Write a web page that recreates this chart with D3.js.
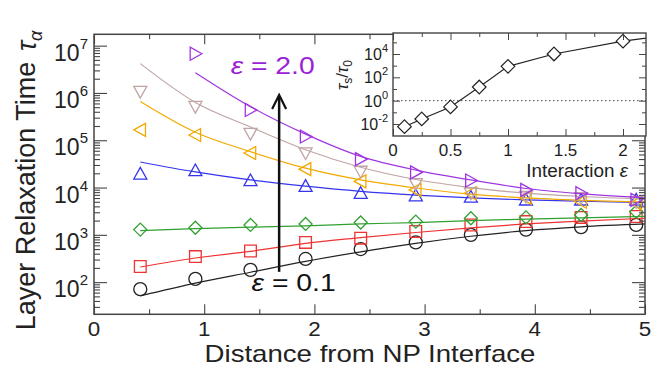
<!DOCTYPE html>
<html>
  <head>
    <meta charset="utf-8">
    <script src="https://d3js.org/d3.v7.min.js"></script>
    <style>
      body { margin: 0; background: #fff; }
      svg text { font-family: "Liberation Sans", Arial, sans-serif; fill: #222; }
    </style>
  </head>
  <body>
    <svg id="chart" width="652" height="369"></svg>
    <script>
        // layer distances (markers) and sample points of the fitted curves
        const layerDist = [0.42, 0.92, 1.42, 1.92, 2.42, 2.92, 3.42, 3.92, 4.42, 4.92]
        const fitDist   = [0.42, 0.92, 1.42, 1.92, 2.42, 2.92, 3.42, 3.92, 4.42, 5.0]

        // tau_alpha per layer, one array per interaction strength
        const tauEps01  = [71, 117, 182, 309, 501, 692, 1000, 1290, 1450, 1620]
        const tauEps025 = [214, 347, 457, 692, 851, 1175, 1620, 1905, 2340, 2450]
        const tauEps05  = [1290, 1410, 1620, 1700, 1820, 1905, 2240, 2340, 2630, 3090]
        const tauEps075 = [19500, 22900, 14100, 10700, 7590, 6760, 6310, 5500, 5500, 5500]
        const tauEps10  = [166000, 129000, 53700, 24500, 13500, 8910, 7590, 6030, 5010, 4680]
        const tauEps14  = [1070000, 513000, 138000, 53700, 21900, 12000, 7590, 6460, 6030, 5010]
        const tauEps20  = [null, 6760000, 437000, 120000, 39800, 20900, 14100, 8910, 7590, 5500]

        // fitted curves
        const fitEps01  = [51, 95, 162, 275, 437, 661, 933, 1230, 1480, 1700]
        const fitEps025 = [209, 324, 447, 661, 871, 1120, 1410, 1700, 1950, 2240]
        const fitEps05  = [1230, 1350, 1450, 1550, 1700, 1820, 2000, 2140, 2290, 2450]
        const fitEps075 = [34700, 21400, 14500, 10700, 8320, 6920, 6030, 5500, 5130, 4790]
        const fitEps10  = [661000, 148000, 57500, 25700, 14500, 9770, 7240, 6030, 5370, 4900]
        const fitEps14  = [4170000, 631000, 191000, 63100, 26900, 14800, 10000, 7590, 6460, 5750]
        const fitEps20  = [null, 2690000, 513000, 135000, 45700, 23400, 14500, 9550, 7410, 6030]

        // inset: tau_s / tau_0 vs interaction
        const insetEps   = [0.1, 0.25, 0.5, 0.75, 1.0, 1.4, 2.0, 2.5]
        const insetRatio = [0.0059, 0.027, 0.29, 14.8, 871, 10000, 126000, 562000]

        const xTicks      = [0, 1, 2, 3, 4, 5]
        const yTickPowers = [2, 3, 4, 5, 6, 7]
        const insetXTicks = ['0', '0.5', '1', '1.5', '2']
        const insetYPowers = [-2, 0, 2, 4]

        const series = [
            {pts: tauEps01,  fit: fitEps01,  color: '#222222', shape: 'circle'},
            {pts: tauEps025, fit: fitEps025, color: '#ee3333', shape: 'square'},
            {pts: tauEps05,  fit: fitEps05,  color: '#30a030', shape: 'diamond'},
            {pts: tauEps075, fit: fitEps075, color: '#3535ee', shape: 'up'},
            {pts: tauEps10,  fit: fitEps10,  color: '#f2a900', shape: 'left'},
            {pts: tauEps14,  fit: fitEps14,  color: '#c0a4a4', shape: 'down'},
            {pts: tauEps20,  fit: fitEps20,  color: '#a035e0', shape: 'right'}
        ]

        const svg = d3.select('#chart')

        let x = d3.scaleLinear().domain([0, 5]).range([94, 645]),
            y = d3.scaleLog().domain([Math.pow(10, 1.32), Math.pow(10, 7.24)]).range([314.3, 34.3])

        // the figure's horizontal text runs a bit wider than Liberation Sans
        function widen(sel, f) {
            sel.each(function () {
                let w = this.getComputedTextLength()
                d3.select(this).attr('textLength', w * f).attr('lengthAdjust', 'spacingAndGlyphs')
            })
        }

        function marker(shape, r) {
            let p = d3.path()
            if (shape == 'circle') { p.arc(0, 0, r, 0, 2 * Math.PI) }
            else if (shape == 'square') { p.rect(-r * 0.9, -r * 0.9, r * 1.8, r * 1.8) }
            else {
                let pts = {
                    diamond: [[0, -r], [r, 0], [0, r], [-r, 0]],
                    up:      [[0, -r], [r, r * 0.8], [-r, r * 0.8]],
                    down:    [[0, r], [r, -r * 0.8], [-r, -r * 0.8]],
                    left:    [[-r, 0], [r * 0.8, -r], [r * 0.8, r]],
                    right:   [[r, 0], [-r * 0.8, -r], [-r * 0.8, r]]
                }[shape]
                p.moveTo(pts[0][0], pts[0][1])
                pts.slice(1).forEach(q => p.lineTo(q[0], q[1]))
                p.closePath()
            }
            return p.toString()
        }

        // ---- main plot data
        let line = d3.line()
            .defined(d => d.v != null)
            .x(d => x(d.d))
            .y(d => y(d.v))
            .curve(d3.curveMonotoneX)

        let dataG = svg.append('g')
        series.forEach(s => {
            dataG.append('path')
                .datum(fitDist.map((d, i) => ({d: d, v: s.fit[i]})))
                .attr('d', line)
                .attr('fill', 'none')
                .attr('stroke', s.color)
                .attr('stroke-width', 1.2)

            dataG.selectAll(null)
                .data(layerDist.map((d, i) => ({d: d, v: s.pts[i]})).filter(d => d.v != null))
                .enter().append('path')
                .attr('transform', d => `translate(${x(d.d)},${y(d.v)})`)
                .attr('d', marker(s.shape, 6.5))
                .attr('fill', 'none')
                .attr('stroke', s.color)
                .attr('stroke-width', 1.3)
        })

        // ---- main axes (ticks inward on all sides)
        let minorX = d3.range(0.5, 5, 1)
        let minorY = []
        d3.range(1, 8).forEach(e => d3.range(2, 10).forEach(k => {
            let v = k * Math.pow(10, e)
            if (v > y.domain()[0] && v < y.domain()[1]) minorY.push(v)
        }))
        let majorY = yTickPowers.map(p => Math.pow(10, p))

        function tickAxis(axis, pos) {
            let g = svg.append('g').attr('transform', pos).call(axis)
            g.select('.domain').remove()
            g.selectAll('text').remove()
            g.selectAll('line').attr('stroke', '#444').attr('stroke-width', 1.1)
        }
        tickAxis(d3.axisBottom(x).tickValues(xTicks).tickSize(-10), `translate(0,314.3)`)
        tickAxis(d3.axisBottom(x).tickValues(minorX).tickSize(-5), `translate(0,314.3)`)
        tickAxis(d3.axisTop(x).tickValues(xTicks).tickSize(-10), `translate(0,34.3)`)
        tickAxis(d3.axisTop(x).tickValues(minorX).tickSize(-5), `translate(0,34.3)`)
        tickAxis(d3.axisLeft(y).tickValues(majorY).tickSize(-13), `translate(94,0)`)
        tickAxis(d3.axisLeft(y).tickValues(minorY).tickSize(-6), `translate(94,0)`)
        tickAxis(d3.axisRight(y).tickValues(majorY).tickSize(-13), `translate(645,0)`)
        tickAxis(d3.axisRight(y).tickValues(minorY).tickSize(-6), `translate(645,0)`)

        svg.append('rect')
            .attr('x', 94).attr('y', 34.3)
            .attr('width', 645 - 94).attr('height', 314.3 - 34.3)
            .attr('fill', 'none').attr('stroke', '#444').attr('stroke-width', 1.5)

        svg.selectAll('.xlab').data(xTicks).enter().append('text')
            .attr('x', d => x(d)).attr('y', 336)
            .attr('text-anchor', 'middle')
            .style('font-size', '20px')
            .text(d => d)
            .call(widen, 1.12)

        let ylab = svg.selectAll('.ylab').data(yTickPowers).enter().append('text')
            .attr('x', 88).attr('y', d => y(Math.pow(10, d)) + 15)
            .attr('text-anchor', 'end')
            .style('font-size', '23px')
        ylab.append('tspan').text('10')
        ylab.append('tspan').attr('dy', -12).style('font-size', '15px').text(d => d)

        svg.append('text')
            .attr('transform', 'translate(35,196) rotate(-90)')
            .attr('text-anchor', 'middle')
            .style('font-size', '27px')
            .text('Layer Relaxation Time')
        let tauLab = svg.append('text')
            .attr('transform', 'translate(36,51) rotate(-90)')
            .style('font-size', '27px')
        tauLab.append('tspan').style('font-style', 'italic').text('τ')
        tauLab.append('tspan').attr('dy', 6).style('font-style', 'italic').style('font-size', '18px').text('α')

        svg.append('text')
            .attr('x', 370).attr('y', 362)
            .attr('text-anchor', 'middle')
            .style('font-size', '24px')
            .text('Distance from NP Interface')
            .call(widen, 1.15)

        // ---- annotations
        let arrowX = 1.68, arrowFrom = 165, arrowTo = 9.1e5
        svg.append('line')
            .attr('x1', x(arrowX)).attr('x2', x(arrowX))
            .attr('y1', y(arrowFrom)).attr('y2', y(arrowTo) + 1)
            .attr('stroke', '#111').attr('stroke-width', 2.5)
        svg.append('path')
            .attr('d', `M${x(arrowX) - 7},${y(arrowTo) + 14} L${x(arrowX)},${y(arrowTo)} L${x(arrowX) + 7},${y(arrowTo) + 14}`)
            .attr('fill', 'none').attr('stroke', '#111').attr('stroke-width', 2.2)

        function epsLabel(xv, yv, val, color) {
            let t = svg.append('text')
                .attr('x', x(xv)).attr('y', y(yv))
                .style('font-size', '24px')
                .style('fill', color)
                .attr('xml:space', 'preserve')
            t.append('tspan').style('font-style', 'italic').style('fill', color).text('ε')
            t.append('tspan').style('fill', color).text(' = ' + val)
            t.call(widen, 1.18)
        }
        epsLabel(1.24, 2.5e6, '2.0', '#9a22d6')
        epsLabel(1.43, 64, '0.1', '#111')

        // ---- inset
        let ix = d3.scaleLinear().domain([0, 2.2]).range([393, 646]),
            iy = d3.scaleLog().domain([Math.pow(10, -3.03), Math.pow(10, 5.8)]).range([136, 33])

        let inset = svg.append('g')
        inset.append('rect')
            .attr('x', 393).attr('y', 33).attr('width', 253).attr('height', 103)
            .attr('fill', '#fff')

        inset.append('clipPath').attr('id', 'insetClip')
            .append('rect').attr('x', 393).attr('y', 33).attr('width', 253).attr('height', 103)

        inset.append('line')
            .attr('x1', ix(0)).attr('x2', ix(2.2))
            .attr('y1', iy(1)).attr('y2', iy(1))
            .attr('stroke', '#444').attr('stroke-width', 1)
            .attr('stroke-dasharray', '1.5,2.5')

        let insetData = insetEps.map((e, i) => ({e: e, v: insetRatio[i]}))
        let insetPlot = inset.append('g').attr('clip-path', 'url(#insetClip)')
        insetPlot.append('path')
            .datum(insetData)
            .attr('d', d3.line().x(d => ix(d.e)).y(d => iy(d.v)))
            .attr('fill', 'none').attr('stroke', '#222').attr('stroke-width', 1.1)
        insetPlot.selectAll(null).data(insetData).enter().append('path')
            .attr('transform', d => `translate(${ix(d.e)},${iy(d.v)})`)
            .attr('d', marker('diamond', 6.8))
            .attr('fill', '#fff').attr('stroke', '#222').attr('stroke-width', 1.2)

        function insetAxis(axis, pos) {
            let g = inset.append('g').attr('transform', pos).call(axis)
            g.select('.domain').remove()
            g.selectAll('text').remove()
            g.selectAll('line').attr('stroke', '#444').attr('stroke-width', 1)
        }
        let iMajX = insetXTicks.map(Number),
            iMinX = d3.range(0.25, 2.2, 0.5),
            iMajY = insetYPowers.map(p => Math.pow(10, p)),
            iMinY = [-1, 1, 3, 5].map(p => Math.pow(10, p))
        insetAxis(d3.axisBottom(ix).tickValues(iMajX).tickSize(-7), 'translate(0,136)')
        insetAxis(d3.axisBottom(ix).tickValues(iMinX).tickSize(-4), 'translate(0,136)')
        insetAxis(d3.axisTop(ix).tickValues(iMajX).tickSize(-7), 'translate(0,33)')
        insetAxis(d3.axisTop(ix).tickValues(iMinX).tickSize(-4), 'translate(0,33)')
        insetAxis(d3.axisLeft(iy).tickValues(iMajY).tickSize(-7), 'translate(393,0)')
        insetAxis(d3.axisLeft(iy).tickValues(iMinY).tickSize(-4), 'translate(393,0)')
        insetAxis(d3.axisRight(iy).tickValues(iMajY).tickSize(-7), 'translate(646,0)')
        insetAxis(d3.axisRight(iy).tickValues(iMinY).tickSize(-4), 'translate(646,0)')

        inset.append('rect')
            .attr('x', 393).attr('y', 33).attr('width', 253).attr('height', 103)
            .attr('fill', 'none').attr('stroke', '#444').attr('stroke-width', 1.4)

        inset.selectAll('.ixlab').data(insetXTicks).enter().append('text')
            .attr('x', d => ix(+d)).attr('y', 155.5)
            .attr('text-anchor', 'middle')
            .style('font-size', '17px')
            .text(d => d)

        let iylab = inset.selectAll('.iylab').data(insetYPowers).enter().append('text')
            .attr('x', 388).attr('y', d => iy(Math.pow(10, d)) + 6)
            .attr('text-anchor', 'end')
            .style('font-size', '16px')
        iylab.append('tspan').text('10')
        iylab.append('tspan').attr('dy', -8).style('font-size', '11px').text(d => d)

        let ixTitle = inset.append('text')
            .attr('x', 628).attr('y', 176.5)
            .attr('text-anchor', 'end')
            .style('font-size', '17.5px')
        ixTitle.append('tspan').text('Interaction ')
        ixTitle.append('tspan').style('font-style', 'italic').text('ε')
        ixTitle.call(widen, 1.08)

        let iyTitle = inset.append('text')
            .attr('transform', 'translate(348,75) rotate(-90)')
            .attr('text-anchor', 'middle')
            .style('font-size', '17px')
        iyTitle.append('tspan').style('font-style', 'italic').text('τ')
        iyTitle.append('tspan').attr('dy', 4).style('font-size', '12px').text('s')
        iyTitle.append('tspan').attr('dy', -4).text('/')
        iyTitle.append('tspan').style('font-style', 'italic').text('τ')
        iyTitle.append('tspan').attr('dy', 4).style('font-size', '12px').text('0')
    </script>
  </body>
</html>
